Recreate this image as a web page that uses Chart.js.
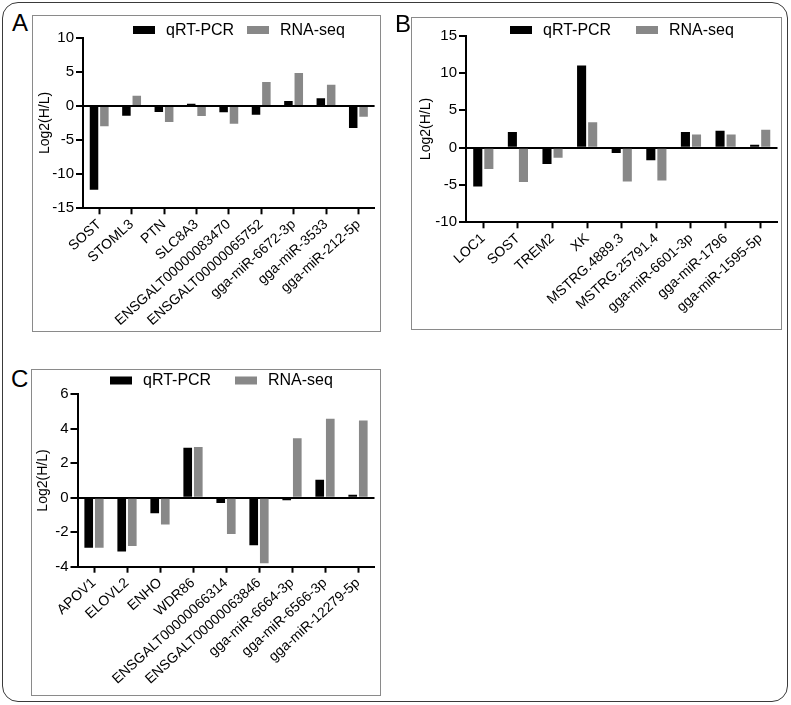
<!DOCTYPE html>
<html>
<head>
<meta charset="utf-8">
<script src="https://cdn.jsdelivr.net/npm/chart.js@4.4.0/dist/chart.umd.min.js"></script>
<style>
  html, body { margin: 0; padding: 0; background: #fff; }
  body { width: 791px; height: 705px; position: relative; overflow: hidden; font-family: "Liberation Sans", Arial, sans-serif; }
  .outer { position: absolute; left: 2px; top: 2px; width: 786px; height: 700px; border: 1.5px solid #3a3a3a; border-radius: 16px; box-sizing: border-box; }
  .box { position: absolute; border: 1px solid #8a8a8a; box-sizing: border-box; }
  canvas { position: absolute; }
  .letter { position: absolute; font-size: 24px; color: #000; line-height: 1; }
</style>
</head>
<body>
<div class="outer"></div>

<div class="box" style="left:32px;top:15px;width:349px;height:317px;"></div>
<div class="box" style="left:411px;top:17px;width:371px;height:313px;"></div>
<div class="box" style="left:31px;top:369px;width:350px;height:327px;"></div>

<canvas id="cA" width="349" height="317" style="left:32px;top:15px;"></canvas>
<canvas id="cB" width="371" height="313" style="left:411px;top:17px;"></canvas>
<canvas id="cC" width="350" height="327" style="left:31px;top:369px;"></canvas>

<div class="letter" style="left:12px;top:11px;">A</div>
<div class="letter" style="left:395px;top:12px;">B</div>
<div class="letter" style="left:11px;top:367px;">C</div>

<script>
// ---- Data ----
const seriesNames = ['qRT-PCR', 'RNA-seq'];

const catsA = ['SOST', 'STOML3', 'PTN', 'SLC8A3', 'ENSGALT00000083470', 'ENSGALT00000065752', 'gga-miR-6672-3p', 'gga-miR-3533', 'gga-miR-212-5p'];
const qpcrA = [-12.3, -1.45, -0.9, 0.3, -0.95, -1.3, 0.7, 1.1, -3.25];
const rnaA  = [-3.0, 1.5, -2.35, -1.5, -2.6, 3.5, 4.8, 3.1, -1.6];
const yTicksA = { min: -15, max: 10, step: 5 };

const catsB = ['LOC1', 'SOST', 'TREM2', 'XK', 'MSTRG.4889.3', 'MSTRG.25791.4', 'gga-miR-6601-3p', 'gga-miR-1796', 'gga-miR-1595-5p'];
const qpcrB = [-5.2, 2.1, -2.2, 11.0, -0.7, -1.7, 2.1, 2.25, 0.4];
const rnaB  = [-2.85, -4.6, -1.35, 3.4, -4.55, -4.4, 1.75, 1.75, 2.4];
const yTicksB = { min: -10, max: 15, step: 5 };

const catsC = ['APOV1', 'ELOVL2', 'ENHO', 'WDR86', 'ENSGALT00000066314', 'ENSGALT00000063846', 'gga-miR-6664-3p', 'gga-miR-6566-3p', 'gga-miR-12279-5p'];
const qpcrC = [-2.9, -3.12, -0.9, 2.9, -0.3, -2.75, -0.15, 1.05, 0.18];
const rnaC  = [-2.9, -2.8, -1.55, 2.95, -2.1, -3.8, 3.45, 4.58, 4.48];
const yTicksC = { min: -4, max: 6, step: 2 };

const colorQ = '#000000';
const colorR = '#888888';
const FONT = '"Liberation Sans", Arial, sans-serif';

Chart.defaults.font.family = FONT;
Chart.defaults.color = '#000';

const legendPlugin = {
  id: 'customLegend',
  afterDraw(chart, args, opts) {
    const ctx = chart.ctx;
    ctx.save();
    ctx.font = '16px ' + FONT;
    ctx.textBaseline = 'middle';
    ctx.textAlign = 'left';
    chart.data.datasets.forEach((ds, i) => {
      const x = opts.xs[i];
      const y = opts.y;
      ctx.fillStyle = ds.backgroundColor;
      ctx.fillRect(x, y - 4, 22, 8);
      ctx.fillStyle = '#000';
      ctx.fillText(ds.label, x + 22 + 11, y + 0.5);
    });
    ctx.restore();
  }
};

function makeChart(id, cats, q, r, yt, lay) {
  return new Chart(document.getElementById(id), {
    type: 'bar',
    data: {
      labels: cats,
      datasets: [
        { label: seriesNames[0], data: q, backgroundColor: colorQ, barPercentage: 0.82, categoryPercentage: 0.64 },
        { label: seriesNames[1], data: r, backgroundColor: colorR, barPercentage: 0.82, categoryPercentage: 0.64 }
      ]
    },
    options: {
      responsive: false,
      animation: false,
      layout: { padding: { left: 0, top: lay.pt, right: lay.pr, bottom: 0 } },
      plugins: {
        legend: { display: false },
        tooltip: { enabled: false },
        customLegend: { xs: lay.legX, y: lay.legY }
      },
      scales: {
        x: {
          type: 'category',
          offset: true,
          grid: { offset: false, drawOnChartArea: false, drawTicks: true, tickLength: 6, tickColor: '#000', tickWidth: 2 },
          border: { color: '#000', width: 2 },
          ticks: { autoSkip: false, minRotation: 42, maxRotation: 42, padding: 2, color: '#000', font: { size: 14 } },
          afterFit(s) { s.height = lay.hx; }
        },
        y: {
          min: yt.min, max: yt.max,
          ticks: { stepSize: yt.step, padding: 2, color: '#000', font: { size: 15 } },
          grid: {
            color: c => (c.tick && c.tick.value === 0) ? '#000' : 'rgba(0,0,0,0)',
            lineWidth: 2, tickColor: '#000', tickWidth: 2, tickLength: 7, drawOnChartArea: true
          },
          border: { color: '#000', width: 2 },
          title: { display: true, text: 'Log2(H/L)', color: '#000', font: { size: 14 }, padding: { top: lay.tp, bottom: 0 } },
          afterFit(s) { s.width = lay.wy; }
        }
      }
    },
    plugins: [legendPlugin]
  });
}

makeChart('cA', catsA, qpcrA, rnaA, yTicksA, { pt: 22.6, pr: 6.4, hx: 123.7, wy: 51, tp: 4.3, legX: [101, 215], legY: 15 });
makeChart('cB', catsB, qpcrB, rnaB, yTicksB, { pt: 18.7, pr: 4.5, hx: 107.7, wy: 55, tp: 6.6, legX: [99, 225], legY: 13 });
makeChart('cC', catsC, qpcrC, rnaC, yTicksC, { pt: 25.3, pr: 6.5, hx: 129.3, wy: 46.5, tp: 4, legX: [79, 204], legY: 11.5 });
</script>
</body>
</html>
